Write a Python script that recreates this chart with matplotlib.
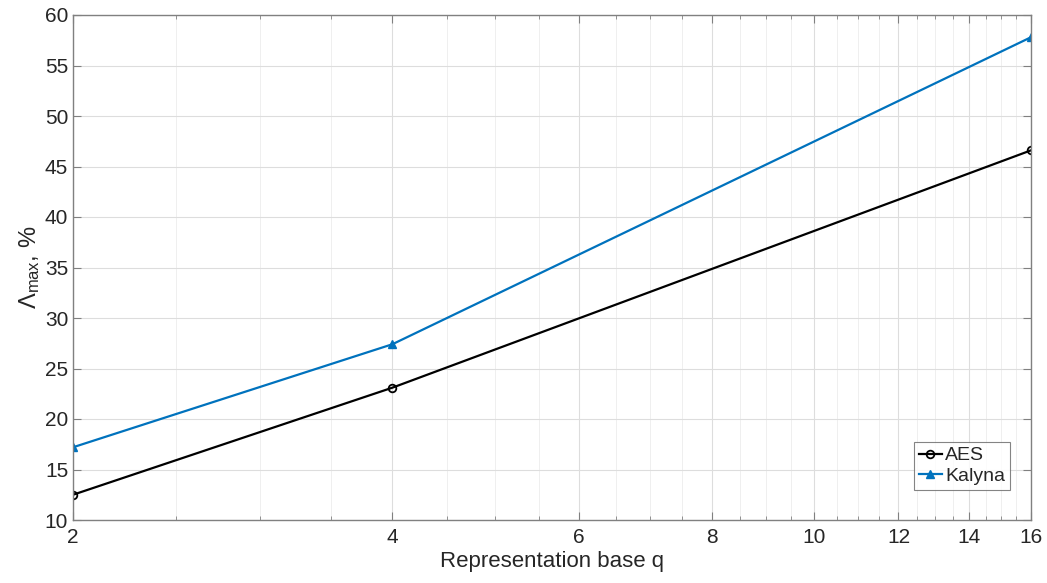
import numpy as np
import matplotlib
matplotlib.use("Agg")
import matplotlib.pyplot as plt
from matplotlib.ticker import FixedLocator, NullFormatter

plt.rcParams['font.family'] = ['Liberation Sans', 'DejaVu Sans']
plt.rcParams['mathtext.fontset'] = 'custom'
plt.rcParams['mathtext.rm'] = 'Liberation Sans'
plt.rcParams['mathtext.it'] = 'Liberation Sans'

q = [2, 4, 16]
aes = [12.5, 23.1, 46.6]
kalyna = [17.2, 27.4, 57.8]

x_ticks = [2, 4, 6, 8, 10, 12, 14, 16]
y_ticks = [10, 15, 20, 25, 30, 35, 40, 45, 50, 55, 60]

text_col = '#262626'
axis_col = '#808080'

fig = plt.figure(figsize=(10.47, 5.83), dpi=100)
ax = fig.add_axes([73/1047, 1 - 520/583, (1031-73)/1047, (520-15)/583])

ax.plot(q, aes, color='black', marker='o', markersize=5.5, markerfacecolor='none',
        markeredgewidth=1.3, linewidth=1.6, label='AES')
ax.plot(q, kalyna, color='#0072BD', marker='^', markersize=6, linewidth=1.6, label='Kalyna')

ax.set_xscale('log')
ax.set_xlim(2, 16)
ax.set_ylim(10, 60)
ax.xaxis.set_major_locator(FixedLocator(x_ticks))
ax.set_xticklabels([str(t) for t in x_ticks])
minor = [v for v in np.arange(2, 16.01, 0.5) if v not in x_ticks]
ax.xaxis.set_minor_locator(FixedLocator(minor))
ax.xaxis.set_minor_formatter(NullFormatter())
ax.set_yticks(y_ticks)

ax.grid(True, which='major', color='#dddddd', linewidth=0.8)
ax.grid(True, which='minor', axis='x', color='#ececec', linewidth=0.6)
ax.set_axisbelow(True)

for s in ax.spines.values():
    s.set_color(axis_col)
    s.set_linewidth(1.0)
ax.tick_params(which='both', direction='in', top=True, right=True, colors=axis_col,
               labelcolor=text_col, labelsize=15)
ax.tick_params(which='major', length=6)
ax.tick_params(which='minor', length=3)
ax.tick_params(axis='x', pad=6)

ax.set_xlabel('Representation base q', fontsize=16, color=text_col, labelpad=3)
ax.set_ylabel('Λ$_{\\mathrm{max}}$, %', fontsize=17, color=text_col, labelpad=2,
              family=['Liberation Serif', 'DejaVu Serif'])
ax.yaxis.label.set_family(['Liberation Sans', 'DejaVu Sans'])

leg = ax.legend(loc='lower right', bbox_to_anchor=(0.978, 0.06), fontsize=14,
                frameon=True, fancybox=False, handlelength=1.2, handletextpad=0.15,
                borderpad=0.25, labelspacing=0.15, borderaxespad=0)
leg.get_frame().set_edgecolor('#666666')
leg.get_frame().set_linewidth(0.8)
for t in leg.get_texts():
    t.set_color(text_col)

fig.savefig('out.png', dpi=100)
